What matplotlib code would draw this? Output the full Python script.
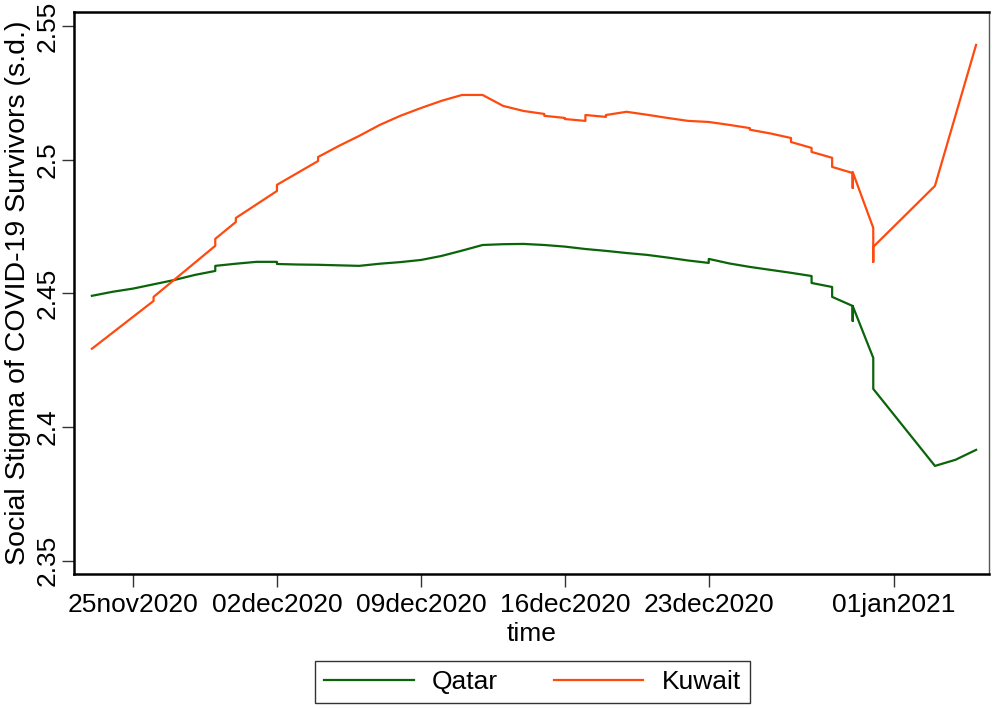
import matplotlib
matplotlib.use("Agg")
import matplotlib.pyplot as plt
import numpy as np
import pandas as pd

plt.rcParams['font.family'] = ['Liberation Sans', 'DejaVu Sans']

# days since 25nov2020; repeated days are several observations on the same date
qatar_days = [-2, -1, 0, 1, 2, 3, 4, 4, 5, 6, 7, 7, 8, 9, 10, 11, 12, 13, 14, 15,
              16, 17, 18, 19, 20, 21, 22, 23, 24, 25, 26, 27, 28, 28, 29, 30, 31,
              32, 33, 33, 34, 34, 35, 35, 35, 36, 36, 39, 40, 41]
qatar_vals = [2.4491, 2.4506, 2.4518, 2.4534, 2.4550, 2.4569, 2.4584, 2.4603,
              2.4611, 2.4618, 2.4618, 2.4610, 2.4608, 2.4607, 2.4605, 2.4603,
              2.4611, 2.4617, 2.4625, 2.4640, 2.4660, 2.4681, 2.4684, 2.4685,
              2.4681, 2.4675, 2.4666, 2.4659, 2.4651, 2.4644, 2.4634, 2.4623,
              2.4614, 2.4629, 2.4612, 2.4599, 2.4588, 2.4577, 2.4565, 2.4539,
              2.4524, 2.4487, 2.4453, 2.4397, 2.4453, 2.4259, 2.4143, 2.3855,
              2.3878, 2.3915]

kuwait_days = [-2, 1, 1, 4, 4, 5, 5, 7, 7, 9, 9, 10, 11, 12, 13, 14, 15, 16, 17,
               18, 19, 20, 20, 21, 21, 22, 22, 23, 23, 24, 25, 26, 27, 28, 29,
               30, 30, 31, 32, 32, 33, 33, 34, 34, 35, 35, 35, 36, 36, 36, 39, 41]
kuwait_vals = [2.4293, 2.4472, 2.4487, 2.4678, 2.4704, 2.4767, 2.4782, 2.4883,
               2.4906, 2.4995, 2.5010, 2.5051, 2.5089, 2.5130, 2.5164, 2.5193,
               2.5220, 2.5242, 2.5242, 2.5201, 2.5182, 2.5171, 2.5164, 2.5156,
               2.5152, 2.5145, 2.5167, 2.5160, 2.5167, 2.5179, 2.5168, 2.5156,
               2.5145, 2.5141, 2.5130, 2.5118, 2.5112, 2.5098, 2.5081, 2.5066,
               2.5044, 2.5029, 2.5007, 2.4973, 2.4950, 2.4894, 2.4954, 2.4745,
               2.4618, 2.4674, 2.4902, 2.5429]

tick_dates = ['2020-11-25', '2020-12-02', '2020-12-09', '2020-12-16',
              '2020-12-23', '2021-01-01']
tick_labels = ['25nov2020', '02dec2020', '09dec2020', '16dec2020',
               '23dec2020', '01jan2021']
y_ticks = [2.35, 2.4, 2.45, 2.5, 2.55]

start = pd.Timestamp('2020-11-25')
qatar_x = [start + pd.Timedelta(days=d) for d in qatar_days]
kuwait_x = [start + pd.Timedelta(days=d) for d in kuwait_days]

fig = plt.figure(figsize=(9.92, 7.08), dpi=100)
ax = fig.add_axes([0.0746, 0.1893, 0.9224, 0.7937])

green = '#0a640a'
orange = '#ff4a0f'
ax.plot(qatar_x, qatar_vals, color=green, lw=1.6, label='Qatar')
ax.plot(kuwait_x, kuwait_vals, color=orange, lw=1.6, label='Kuwait')

ax.set_xlim(start + pd.Timedelta(days=-2.87), start + pd.Timedelta(days=41.63))
ax.set_ylim(2.3451, 2.5552)

fs = 19
ax.set_xticks([pd.Timestamp(d) for d in tick_dates])
ax.set_xticklabels(tick_labels, fontsize=fs)
ax.set_yticks(y_ticks)
ax.set_yticklabels(['2.35', '2.4', '2.45', '2.5', '2.55'], fontsize=fs,
                   rotation=90, va='center')
ax.tick_params(axis='both', length=9, width=1, color='#333333', pad=1)
ax.tick_params(axis='x', pad=5)

ax.set_xlabel('time', fontsize=fs, labelpad=3)
ax.set_ylabel('Social Stigma of COVID-19 Survivors (s.d.)', fontsize=20.5)
ax.yaxis.set_label_coords(-0.047, 0.5)

for side in ['left', 'bottom', 'top']:
    ax.spines[side].set_linewidth(1.8)
    ax.spines[side].set_color('black')
ax.spines['right'].set_linewidth(1.0)
ax.spines['right'].set_color('#555555')

leg = fig.legend(loc='center', bbox_to_anchor=(532.5 / 992, 1 - 682 / 708),
                 ncol=2, fontsize=fs, frameon=True, fancybox=False,
                 handlelength=3.4, handletextpad=0.7, columnspacing=2.1,
                 borderpad=0.35)
leg.get_frame().set_edgecolor('black')
leg.get_frame().set_linewidth(1.0)

fig.savefig('out.png', dpi=100)
